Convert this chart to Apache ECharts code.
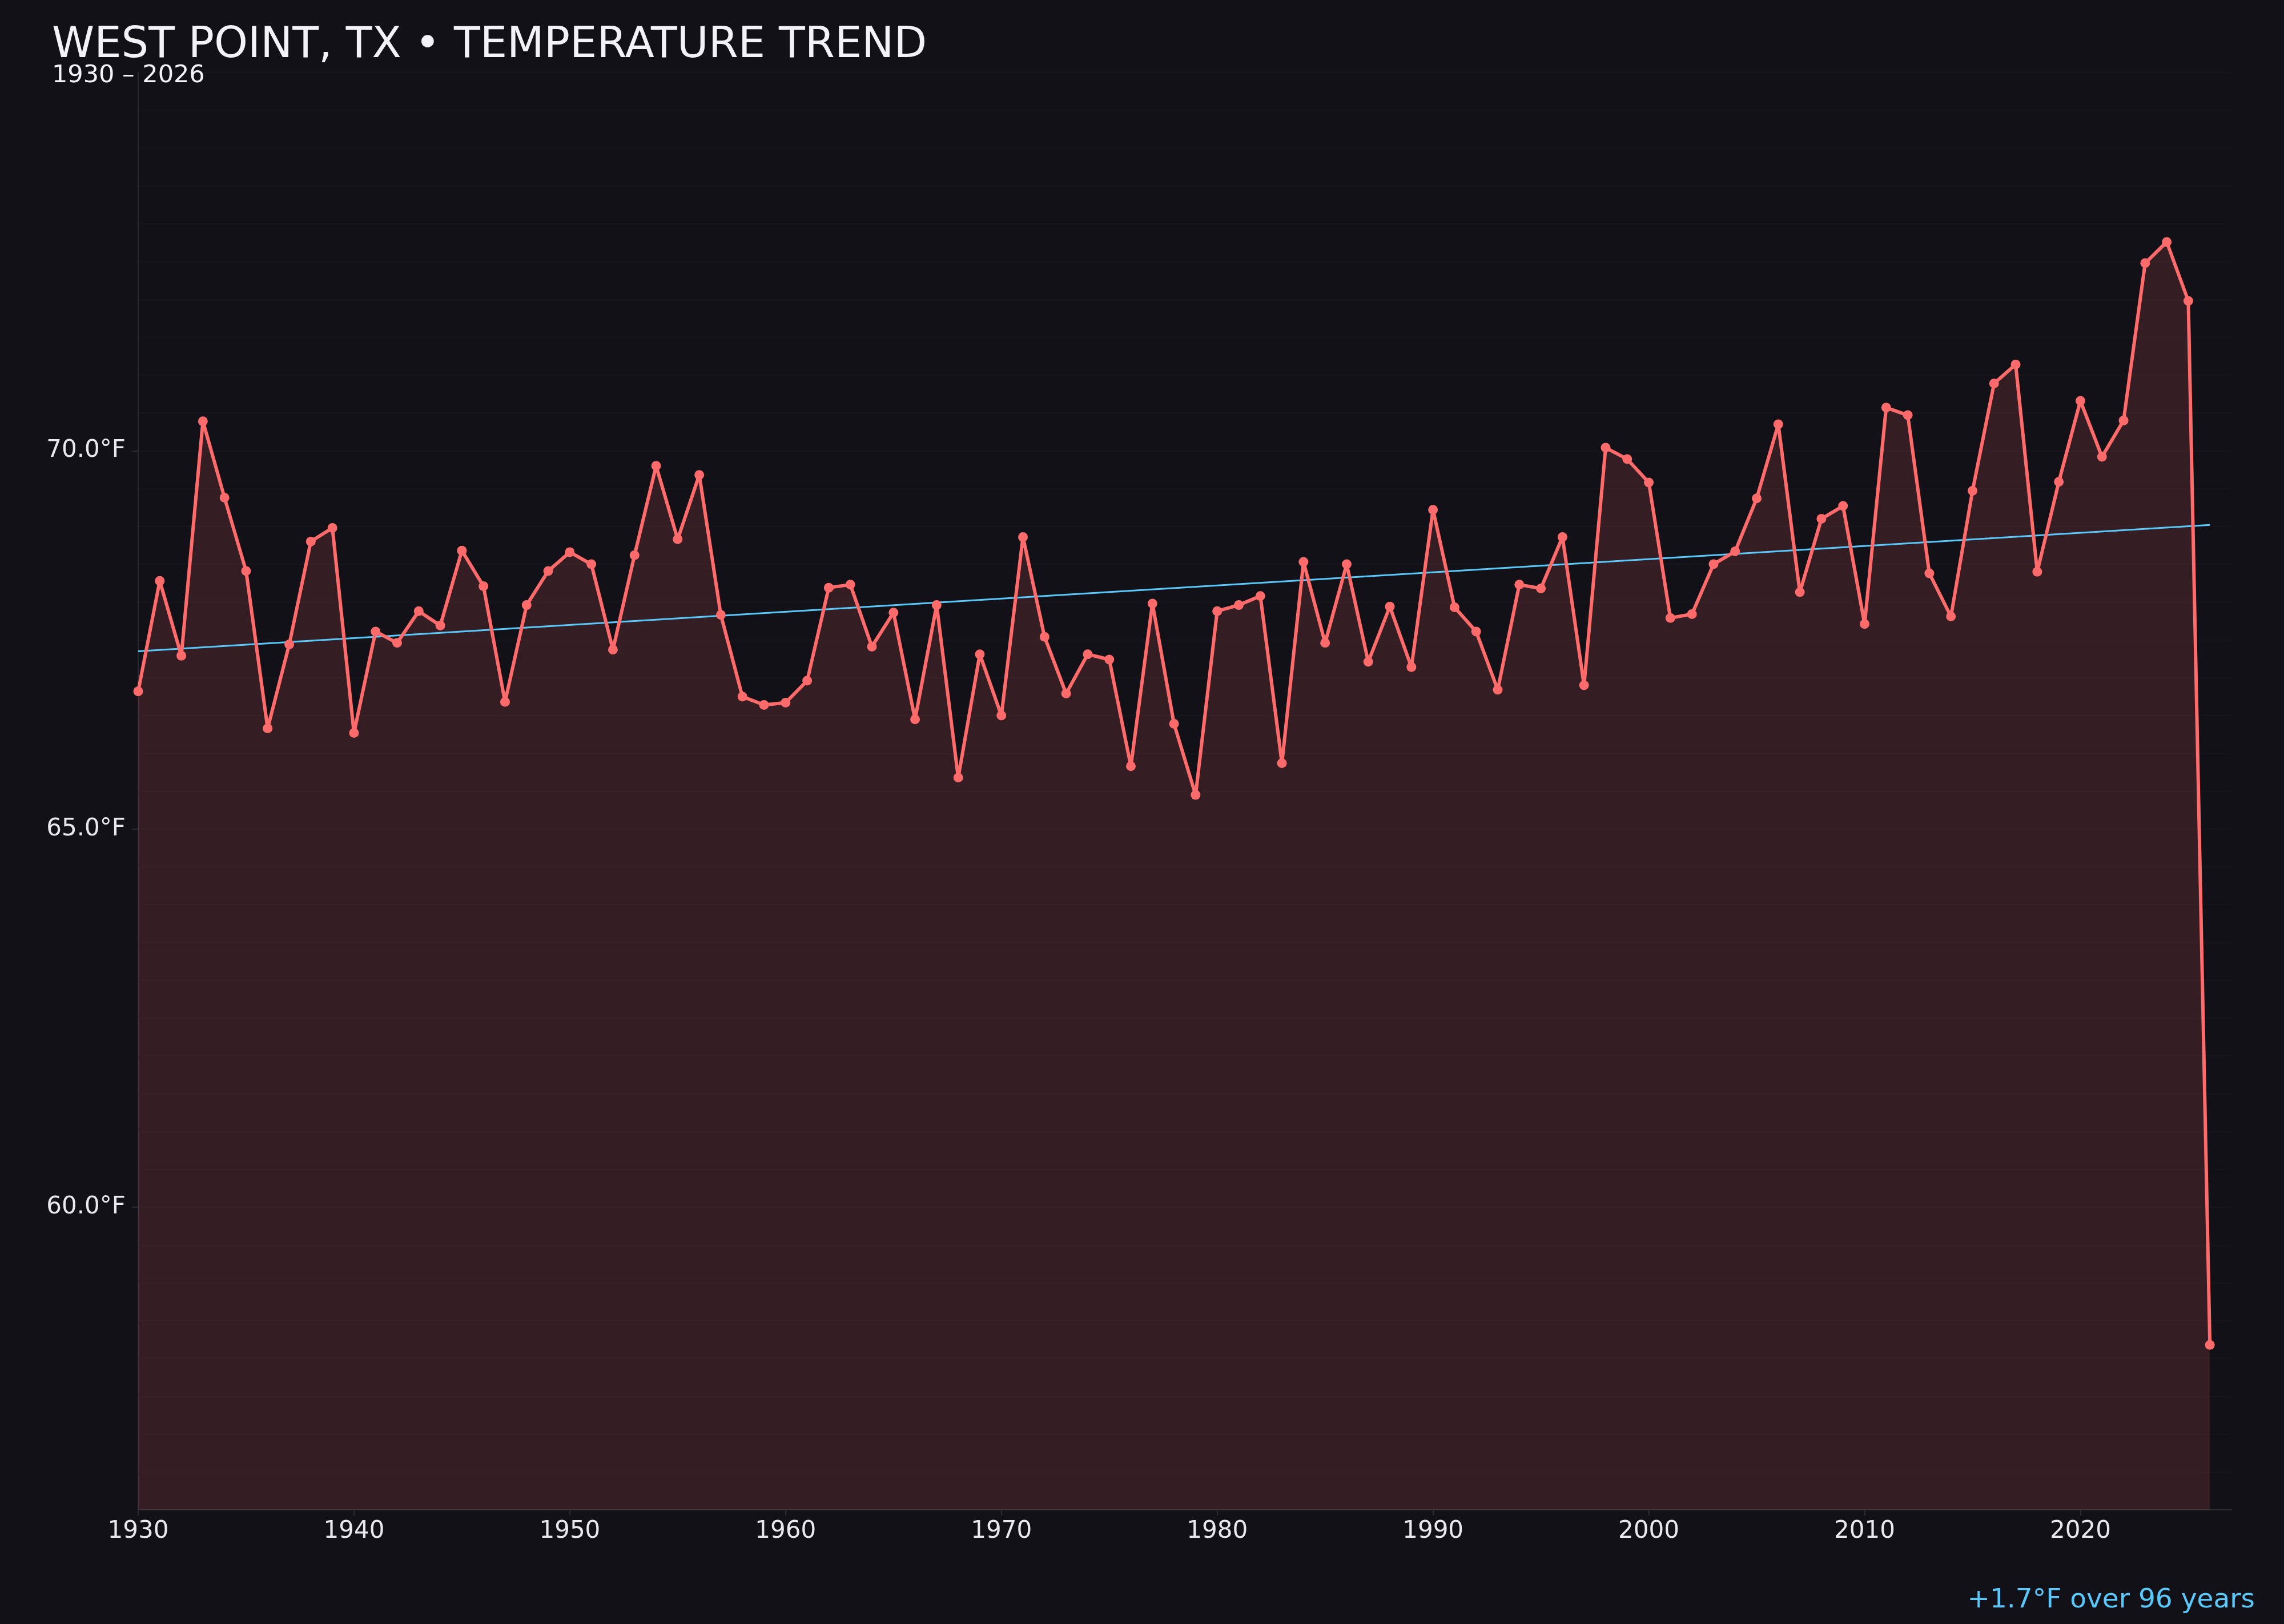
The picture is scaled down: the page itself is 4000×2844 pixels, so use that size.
<!DOCTYPE html>
<html>
<head>
<meta charset="utf-8">
<script src="https://cdn.jsdelivr.net/npm/echarts@6/dist/echarts.min.js"></script>
<style>
html,body{margin:0;padding:0;background:#121117;}
#chart{width:4000px;height:2844px;}
</style>
</head>
<body>
<div id="chart"></div>
<script>
const titleText = 'WEST POINT, TX • TEMPERATURE TREND';
const subtitleText = '1930 – 2026';
const noteText = '+1.7°F over 96 years';

const startYear = 1930;
const temps = [
  66.82, 68.28, 67.29, 70.39, 69.38, 68.41, 66.33, 67.44, 68.80, 68.98,
  66.27, 67.61, 67.46, 67.88, 67.69, 68.68, 68.21, 66.68, 67.96, 68.41,
  68.66, 68.50, 67.37, 68.62, 69.80, 68.83, 69.68, 67.83, 66.75, 66.64,
  66.67, 66.96, 68.19, 68.23, 67.41, 67.86, 66.45, 67.96, 65.68, 67.31,
  66.50, 68.86, 67.54, 66.79, 67.31, 67.24, 65.83, 67.98, 66.39, 65.45,
  67.88, 67.96, 68.08, 65.87, 68.53, 67.46, 68.50, 67.21, 67.94, 67.14,
  69.22, 67.93, 67.61, 66.84, 68.23, 68.18, 68.86, 66.90, 70.04, 69.89,
  69.58, 67.79, 67.84, 68.50, 68.67, 69.37, 70.35, 68.13, 69.10, 69.27,
  67.71, 70.57, 70.47, 68.38, 67.81, 69.47, 70.89, 71.14, 68.40, 69.59,
  70.66, 69.92, 70.40, 72.48, 72.76, 71.98, 58.18
];
const years = temps.map((_, i) => startYear + i);

const trendYears = [1930, 2026];
const trendValues = [67.35, 69.02];

const xTicks = [1930, 1940, 1950, 1960, 1970, 1980, 1990, 2000, 2010, 2020];
const yTicks = [60, 65, 70];

const tempData = years.map((y, i) => [y, temps[i]]);
const trendData = trendYears.map((y, i) => [y, trendValues[i]]);

const FONT = 'DejaVu Sans';
const chart = echarts.init(document.getElementById('chart'), null, {renderer: 'canvas'});
chart.setOption({
  backgroundColor: '#121117',
  animation: false,
  title: [
    {text: titleText, left: 86, top: 38,
     textStyle: {color: '#f2f2f7', fontFamily: FONT, fontSize: 75, fontWeight: 'normal'}},
    {text: subtitleText, left: 86, top: 106,
     textStyle: {color: '#f2f2f7', fontFamily: FONT, fontSize: 43, fontWeight: 'normal'}},
    {text: noteText, right: 46, top: 2774,
     textStyle: {color: '#5ac8fa', fontFamily: FONT, fontSize: 47, fontWeight: 'normal'}}
  ],
  grid: {left: 242, right: 92, top: 127, bottom: 200, containLabel: false},
  xAxis: {
    type: 'value', min: 1930, max: 2027,
    axisLine: {show: true, lineStyle: {color: '#2c2c35', width: 2}},
    axisTick: {show: true, length: 10, customValues: xTicks, lineStyle: {color: '#2c2c35', width: 2}},
    axisLabel: {show: true, customValues: xTicks, margin: 17, color: '#e8e8ee',
      fontFamily: FONT, fontSize: 42, formatter: v => String(v)},
    splitLine: {show: false}
  },
  yAxis: [
    {
      type: 'value', min: 56, max: 75,
      axisLine: {show: true, lineStyle: {color: '#2a2a32', width: 2}},
      axisTick: {show: true, length: 11, customValues: yTicks, lineStyle: {color: '#2a2a32', width: 2}},
      axisLabel: {show: true, customValues: yTicks, margin: 22, color: '#e8e8ee',
        fontFamily: FONT, fontSize: 42, formatter: v => v.toFixed(1) + '°F'},
      splitLine: {show: true, lineStyle: {color: '#26252b', width: 2}}
    },
    {
      type: 'value', min: 56, max: 75, interval: 0.5, position: 'left',
      axisLine: {show: false}, axisTick: {show: false}, axisLabel: {show: false},
      splitLine: {show: true, lineStyle: {color: '#16151b', width: 2}}
    }
  ],
  series: [
    {
      name: 'area', type: 'line', data: tempData, yAxisIndex: 0,
      showSymbol: false, symbol: 'none', z: 1,
      lineStyle: {width: 0, opacity: 0},
      areaStyle: {color: 'rgba(255,107,107,0.15)', opacity: 1, origin: 'start'},
      silent: true
    },
    {
      name: 'trend', type: 'line', data: trendData, yAxisIndex: 0,
      showSymbol: false, symbol: 'none', z: 2,
      lineStyle: {color: '#5ac8fa', width: 3}
    },
    {
      name: 'temp', type: 'line', data: tempData, yAxisIndex: 0,
      symbol: 'circle', symbolSize: 17, showSymbol: true, showAllSymbol: true, z: 3,
      itemStyle: {color: '#ff6b6b'},
      lineStyle: {color: '#ff6b6b', width: 6}
    }
  ]
});
</script>
</body>
</html>
